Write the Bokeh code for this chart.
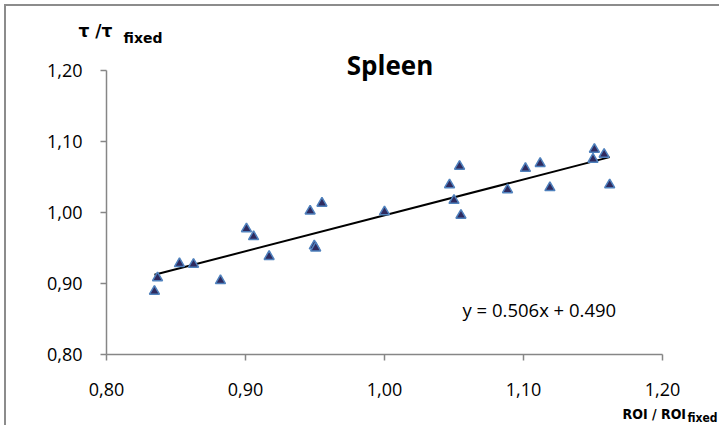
from bokeh.plotting import figure
from bokeh.models import Range1d, FixedTicker, CustomJSTickFormatter, Label, ColumnDataSource
from bokeh.embed import file_html
from bokeh.resources import INLINE

roi = [0.8345, 0.8367, 0.8525, 0.8626, 0.8820, 0.9007, 0.9058, 0.9170, 0.9465,
       0.9495, 0.9505, 0.9550, 1.0000, 1.0468, 1.0500, 1.0540, 1.0550, 1.0885,
       1.1014, 1.1120, 1.1190, 1.1500, 1.1510, 1.1580, 1.1620]
tau = [0.889, 0.908, 0.928, 0.927, 0.904, 0.977, 0.966, 0.938, 1.002,
       0.953, 0.950, 1.013, 1.001, 1.039, 1.017, 1.065, 0.996, 1.032,
       1.062, 1.069, 1.035, 1.075, 1.089, 1.082, 1.039]
slope = 0.506
intercept = 0.490
x_ticks = [0.80, 0.90, 1.00, 1.10, 1.20]
y_ticks = [0.80, 0.90, 1.00, 1.10, 1.20]
title_text = "Spleen"
equation_text = "y = 0.506x + 0.490"
y_title = "τ /τ"
x_title = "ROI / ROI"
sub_text = "fixed"

W, H = 715, 421
p = figure(width=W, height=H, output_backend="svg", toolbar_location=None,
           x_range=Range1d(0.728058, 1.242446), y_range=Range1d(0.697183, 1.290141),
           min_border_left=0, min_border_right=0, min_border_top=0, min_border_bottom=0)
p.title.visible = False
p.styles = {"margin-left": "4px", "margin-top": "4px",
            "border-top": "2px solid #8c8c8c", "border-left": "2px solid #8c8c8c"}
p.outline_line_color = None
p.grid.visible = False

fmt = CustomJSTickFormatter(code="return tick.toFixed(2).replace('.', ',');")
for ax, ticks in ((p.xaxis[0], x_ticks), (p.yaxis[0], y_ticks)):
    ax.ticker = FixedTicker(ticks=ticks)
    ax.formatter = fmt
    ax.fixed_location = 0.80
    ax.bounds = (0.80, 1.20)
    ax.axis_line_color = "#868686"
    ax.axis_line_width = 1.5
    ax.major_tick_line_color = "#868686"
    ax.major_tick_line_width = 1.5
    ax.major_tick_out = 6
    ax.major_tick_in = 0
    ax.minor_tick_line_color = None
    ax.major_label_text_font = "Open Sans"
    ax.major_label_text_font_size = "18px"
    ax.major_label_text_color = "#000000"
p.yaxis[0].major_label_standoff = 18
p.xaxis[0].major_label_standoff = 23

x0, x1 = min(roi), max(roi)
p.line([x0, x1], [slope * x0 + intercept, slope * x1 + intercept],
       line_color="black", line_width=2)

src = ColumnDataSource(dict(x=roi, y=tau))
p.scatter("x", "y", source=src, marker="triangle", size=10,
          fill_color="#2f2a5e", line_color="#4f81bd", line_width=1.5)

def lab(x, y, text, size, font="Open Sans", style="normal", align="left"):
    p.add_layout(Label(x=x, y=y, text=text, text_font=font,
                       text_font_size=size, text_font_style=style, text_align=align,
                       text_baseline="middle", text_color="black"))

narrow = "'DejaVu Sans Condensed', 'Liberation Sans', sans-serif"
lab(1.00396, 1.20718, title_text, "26px", style="bold", align="center")
lab(1.05612, 0.86338, equation_text, "18.5px")
lab(0.77986, 1.25493, y_title, "17px", font="DejaVu Sans", style="bold")
lab(0.81223, 1.24620, sub_text, "14px", font="DejaVu Sans", style="bold")
lab(1.17122, 0.715493, x_title, "14px", font=narrow, style="bold")
lab(1.217986, 0.710563, sub_text, "12px", font=narrow, style="bold")

open("out.html", "w").write(file_html(p, INLINE))
